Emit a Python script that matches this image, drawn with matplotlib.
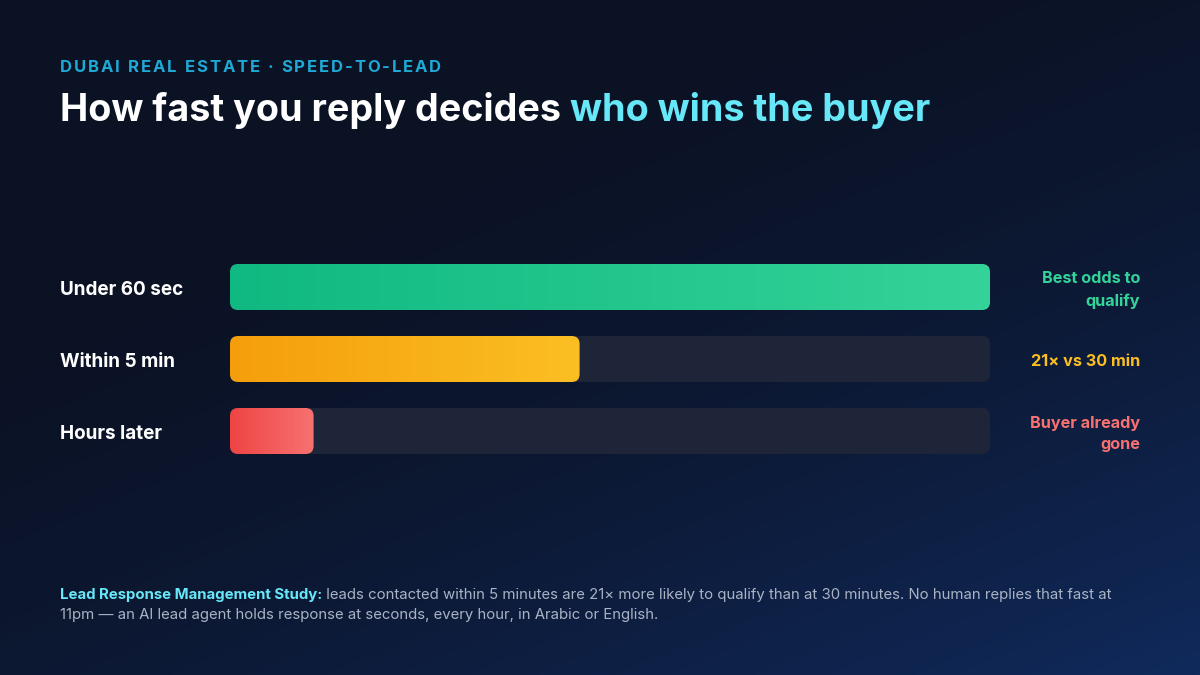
import numpy as np
import matplotlib
matplotlib.use("Agg")
import matplotlib.pyplot as plt
from matplotlib.patches import FancyBboxPatch
from matplotlib.colors import LinearSegmentedColormap

# ---- data ----
categories = ["Under 60 sec", "Within 5 min", "Hours later"]
values = [100, 46, 11]
notes = ["Best odds to\nqualify", "21\u00d7 vs 30 min", "Buyer already\ngone"]
bar_starts = ["#10b981", "#f59e0b", "#ef4444"]
bar_ends = ["#34d399", "#fbbf24", "#f87171"]
note_colors = ["#34d399", "#fbbf24", "#f87171"]

kicker = "DUBAI REAL ESTATE \u00b7 SPEED-TO-LEAD"
title_a = "How fast you reply decides "
title_b = "who wins the buyer"
foot_bold = "Lead Response Management Study:"
foot_line1 = " leads contacted within 5 minutes are 21\u00d7 more likely to qualify than at 30 minutes. No human replies that fast at"
foot_line2 = "11pm \u2014 an AI lead agent holds response at seconds, every hour, in Arabic or English."

FONT = ["Inter", "DejaVu Sans"]
W, H = 1200, 675
fig = plt.figure(figsize=(12, 6.75), dpi=100)

# background gradient
bg = fig.add_axes([0, 0, 1, 1])
bg.set_axis_off()
yy, xx = np.mgrid[0:1:200j, 0:1:356j]
t = np.clip((xx * 0.55 + yy * 0.75 - 0.35) / 0.95, 0, 1) ** 1.6
c0 = np.array([0x0b, 0x12, 0x24]) / 255
c1 = np.array([0x10, 0x2a, 0x5c]) / 255
img = c0[None, None, :] * (1 - t[..., None]) + c1[None, None, :] * t[..., None]
bg.imshow(img, extent=[0, 1, 0, 1], aspect="auto", origin="upper")
bg.set_xlim(0, 1); bg.set_ylim(0, 1)

def px(x, y):
    return x / W, 1 - y / H

# chart axes: x 230..990 px, rows centred at 287, 359, 431 (72 px pitch)
left, right = 230, 990
pitch = 72
top_px = 287 - pitch / 2
ax = fig.add_axes([left / W, 1 - (top_px + 3 * pitch) / H, (right - left) / W, 3 * pitch / H])
ax.set_axis_off()
ax.set_xlim(0, 100)
ax.set_ylim(len(categories) - 0.5, -0.5)
bh = 46 / pitch
r_px = 8
r_x = r_px * 100 / (right - left)
aspect = (1 / pitch) / (100 / (right - left))

ypos = np.arange(len(categories))
tracks = ax.barh(ypos, [100] * len(categories), height=bh, color="none")
bars = ax.barh(ypos, values, height=bh, color="none")

for i, (tb, b) in enumerate(zip(tracks, bars)):
    x0, y0, w, h = tb.get_x(), tb.get_y(), tb.get_width(), tb.get_height()
    track = FancyBboxPatch((x0, y0), w, h, boxstyle=f"round,pad=0,rounding_size={r_x}",
                           mutation_aspect=aspect, fc="#1e2538", ec="none", zorder=1)
    ax.add_patch(track)
    x0, y0, w, h = b.get_x(), b.get_y(), b.get_width(), b.get_height()
    p = FancyBboxPatch((x0, y0), w, h, boxstyle=f"round,pad=0,rounding_size={r_x}",
                       mutation_aspect=aspect, fc="none", ec="none", zorder=2)
    ax.add_patch(p)
    cmap = LinearSegmentedColormap.from_list("g", [bar_starts[i], bar_ends[i]])
    grad = np.linspace(0, 1, 256)[None, :]
    im = ax.imshow(grad, cmap=cmap, extent=[x0, x0 + w, y0 + h, y0], aspect="auto",
                   zorder=3, interpolation="bilinear")
    im.set_clip_path(p)
    ax.set_xlim(0, 100)
    ax.set_ylim(len(categories) - 0.5, -0.5)

    yc = 287 + i * pitch
    fig.text(*px(60, yc + 3), categories[i], color="white", fontsize=13.6, fontweight="bold",
             family=FONT, va="center", ha="left")
    fig.text(*px(1140, yc + 3), notes[i], color=note_colors[i], fontsize=11.7, fontweight="bold",
             family=FONT, va="center", ha="right", multialignment="right", linespacing=1.55)

fig.canvas.draw()
renderer = fig.canvas.get_renderer()

def tracked(x, y, s, tracking, **kw):
    cx = x
    for ch in s:
        tt = fig.text(*px(cx, y), ch, **kw)
        bb = tt.get_window_extent(renderer)
        cx += bb.width + tracking
    return cx

# kicker with letter spacing
tracked(60, 72, kicker, 1.9, color="#1fa9d6", fontsize=12, fontweight="bold", family=FONT,
        va="baseline", ha="left")

# title
t1 = fig.text(*px(60, 121), title_a, color="white", fontsize=27.15, fontweight="bold",
              family=FONT, va="baseline", ha="left")
bb = t1.get_window_extent(renderer)
fig.text(bb.x1 / W, 1 - 121 / H, title_b, color="#67e8f9", fontsize=27.15, fontweight="bold",
         family=FONT, va="baseline", ha="left")

# footnote
fs = 10.75
f1 = fig.text(*px(60, 595), foot_bold, color="#67e8f9", fontsize=fs, fontweight="bold",
              family=FONT, va="center", ha="left")
bb = f1.get_window_extent(renderer)
fig.text(bb.x1 / W, 1 - 595 / H, foot_line1, color="#a9b3c4", fontsize=fs,
         family=FONT, va="center", ha="left")
fig.text(*px(60, 615), foot_line2, color="#a9b3c4", fontsize=fs,
         family=FONT, va="center", ha="left")

fig.savefig("out.png", dpi=100)
